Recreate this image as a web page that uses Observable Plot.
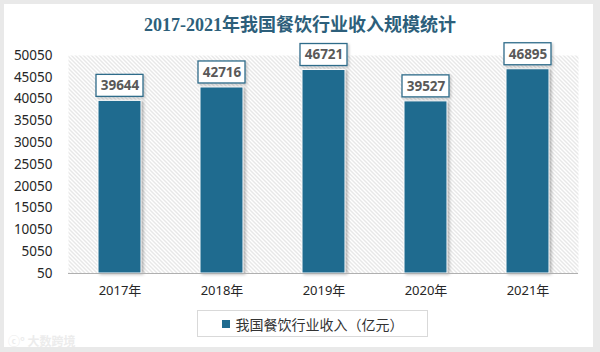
<!DOCTYPE html>
<html>
<head>
<meta charset="utf-8">
<script src="https://cdn.jsdelivr.net/npm/d3@7"></script>
<script src="https://cdn.jsdelivr.net/npm/@observablehq/plot@0.6"></script>
<style>
  body { margin: 0; }
  #wrap { position: relative; width: 600px; height: 352px; background: #e9e9e9; overflow: hidden;
          font-family: "Noto Sans", "Noto Sans CJK SC", sans-serif; }
  #panel { position: absolute; left: 4px; top: 4px; width: 589px; height: 343px; background: #fff; }
  #title { position: absolute; left: 0; top: 13px; width: 600px; text-align: center;
           font: bold 18px/24px "Liberation Serif", "Noto Sans CJK SC", serif; color: #2d5f7b; }
  #chart { position: absolute; left: 0; top: 40px; }
  #legend { position: absolute; left: 197px; top: 310px; width: 231px; height: 27px; box-sizing: border-box;
            border: 1px solid #d9d9d9; display: flex; align-items: center; justify-content: center;
            font: 14px "Noto Sans CJK SC", sans-serif; color: #333; }
  #legend .sw { width: 8px; height: 8px; background: #1f6b8f; margin-right: 6px; }
  #wm { position: absolute; left: 8px; top: 332px; font: bold 12px "Noto Sans CJK SC", sans-serif;
        color: #ececec; }
  .bars { filter: drop-shadow(2px 1px 1.5px rgba(0,0,0,0.28)); }
</style>
</head>
<body>
<div id="wrap">
  <div id="panel"></div>
  <div id="title">2017-2021年我国餐饮行业收入规模统计</div>
  <div id="chart"></div>
  <div id="legend"><div class="sw"></div><span>我国餐饮行业收入（亿元）</span></div>
  <div id="wm">ⓒ° 大数跨境</div>
</div>
<script>
const years = ["2017", "2018", "2019", "2020", "2021"];
const revenue = [39644, 42716, 46721, 39527, 46895];
const yTicks = [50, 5050, 10050, 15050, 20050, 25050, 30050, 35050, 40050, 45050, 50050];
const yDomain = [50, 50050];
const seriesName = "我国餐饮行业收入（亿元）";

const data = years.map((y, i) => ({year: y, value: revenue[i]}));
const barColor = "#1f6b8f";

const plot = Plot.plot({
  width: 600,
  height: 265,
  marginLeft: 68,
  marginRight: 22,
  marginTop: 15,
  marginBottom: 32,
  style: {background: "transparent", fontFamily: "'Noto Sans', 'Noto Sans CJK SC', sans-serif", color: "#333"},
  x: {domain: years, paddingInner: 0.58, paddingOuter: 0.29, label: null},
  y: {domain: yDomain, label: null},
  marks: [
    Plot.frame({fill: "url(#hatch)", stroke: null}),
    Plot.axisY({ticks: yTicks, tickSize: 0, tickPadding: 16, tickFormat: d => String(d), fontSize: 13.5, fill: "#262626", label: null}),
    Plot.axisX({tickSize: 0, tickPadding: 12, tickFormat: d => d + "年", fontSize: 13, fill: "#262626", label: null}),
    Plot.barY(data, {x: "year", y1: () => yDomain[0], y2: "value", fill: barColor, stroke: "#fff", strokeWidth: 1, className: "bars"}),
    Plot.ruleY([yDomain[0]], {stroke: "#b0b0b0", strokeWidth: 1}),
    Plot.text(data, {x: "year", y: "value", text: d => String(d.value), dy: -15, fontSize: 13.5, fontWeight: "bold",
                     fill: "#595959", fontFamily: "'Noto Sans', sans-serif", className: "vlabel"})
  ]
});

// pattern for hatched plot background
const svgNS = "http://www.w3.org/2000/svg";
const defs = document.createElementNS(svgNS, "defs");
defs.innerHTML = `<pattern id="hatch" patternUnits="userSpaceOnUse" width="4" height="4">
  <rect width="4" height="4" fill="#ffffff"/>
  <path d="M-1,-1 L5,5 M-1,3 L1,5 M3,-1 L5,1" stroke="#d0d0d0" stroke-width="1"/>
</pattern>
<filter id="boxShadow" x="-20%" y="-20%" width="150%" height="150%">
  <feDropShadow dx="1.5" dy="1.5" stdDeviation="1" flood-color="#000" flood-opacity="0.2"/>
</filter>`;
plot.insertBefore(defs, plot.firstChild);

// label boxes positioned with the plot's own scales
const sx = plot.scale("x"), sy = plot.scale("y");
const boxW = 47, boxH = 22;
const labelG = plot.querySelector("g.vlabel");
const boxG = document.createElementNS(svgNS, "g");
data.forEach(d => {
  const cx = sx.apply(d.year) + sx.bandwidth / 2;
  const cy = sy.apply(d.value) - 15;
  const r = document.createElementNS(svgNS, "rect");
  r.setAttribute("x", cx - boxW / 2);
  r.setAttribute("y", cy - boxH / 2);
  r.setAttribute("width", boxW);
  r.setAttribute("height", boxH);
  r.setAttribute("fill", "#fff");
  r.setAttribute("stroke", "#2e6c8a");
  r.setAttribute("stroke-width", "1.3");
  r.setAttribute("filter", "url(#boxShadow)");
  boxG.appendChild(r);
});
labelG.parentNode.insertBefore(boxG, labelG);

document.getElementById("chart").appendChild(plot);
</script>
</body>
</html>
